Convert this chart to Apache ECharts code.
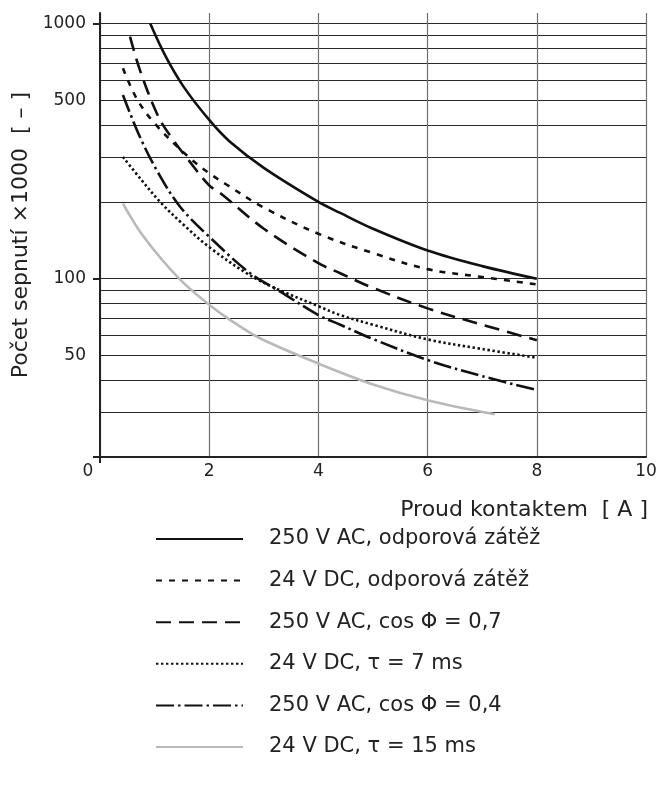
<!DOCTYPE html>
<html>
<head>
<meta charset="utf-8">
<script src="https://cdn.jsdelivr.net/npm/echarts@6/dist/echarts.min.js"></script>
<style>
  html, body { margin: 0; padding: 0; background: #fff; }
  #chart { width: 661px; height: 787px; }
</style>
</head>
<body>
<div id="chart"></div>
<script>
// hodnoty: proud [A] a počet sepnutí ×1000
var ac250Odpor_I = [0.92, 1.2, 1.53, 2, 2.38, 3, 4, 4.4, 5, 6, 7, 8];
var ac250Odpor_N = [1000, 745, 566, 419, 344, 272, 200, 181, 157, 129, 112, 100];

var dc24Odpor_I = [0.42, 0.67, 1, 1.62, 2, 2.3, 3, 4, 5, 6, 7, 8];
var dc24Odpor_N = [668, 509, 406, 300, 259, 235, 190, 150, 126, 109, 101.5, 95];

var ac250Cos07_I = [0.55, 0.73, 1.07, 1.34, 1.62, 2, 2.2, 3, 4, 4.4, 5, 6, 7, 8];
var ac250Cos07_N = [889, 658, 431, 350, 292, 232, 217, 157, 115, 105, 92, 76.5, 66, 57.4];

var dc24Tau7_I = [0.42, 0.75, 1.1, 1.5, 2, 2.75, 3.3, 4, 4.4, 5, 6, 7, 8];
var dc24Tau7_N = [300, 245, 200, 165, 133, 103, 90, 78, 72, 66, 57.8, 53, 49];

var ac250Cos04_I = [0.42, 0.73, 1.07, 1.47, 2, 2.75, 3.3, 4, 4.4, 5, 6, 7, 8];
var ac250Cos04_N = [525, 360, 259, 191, 146, 105, 89, 72, 66, 58, 48, 41.5, 36.6];

var dc24Tau15_I = [0.42, 0.8, 1.45, 2, 2.38, 2.93, 4, 5, 6, 7.23];
var dc24Tau15_N = [197, 146, 100, 79, 69, 58.4, 46.5, 38.5, 33.4, 29.4];

var names = [
  '250 V AC, odporová zátěž',
  '24 V DC, odporová zátěž',
  '250 V AC, cos \u03A6 = 0,7',
  '24 V DC, \u03C4 = 7 ms',
  '250 V AC, cos \u03A6 = 0,4',
  '24 V DC, \u03C4 = 15 ms'
];

// osy
var xTicks = [0, 2, 4, 6, 8, 10];
var yGrid = [30, 40, 50, 60, 70, 80, 90, 100, 200, 300, 400, 500, 600, 700, 800, 900, 1000];
var yLabels = [50, 100, 500, 1000];
var yTicks = [20, 100, 1000];

function pairs(xs, ys) {
  return xs.map(function (x, i) { return [x, ys[i]]; });
}

var font = 'DejaVu Sans, Verdana, sans-serif';

var lineStyles = [
  { color: '#111', width: 2.6, type: 'solid' },
  { color: '#111', width: 2.6, type: [6, 7] },
  { color: '#111', width: 2.6, type: [15, 8] },
  { color: '#111', width: 2.6, type: [2.4, 2.6] },
  { color: '#111', width: 2.6, type: [18, 4, 2.5, 4] },
  { color: '#b9b9b9', width: 2.6, type: 'solid' }
];

var datasets = [
  pairs(ac250Odpor_I, ac250Odpor_N),
  pairs(dc24Odpor_I, dc24Odpor_N),
  pairs(ac250Cos07_I, ac250Cos07_N),
  pairs(dc24Tau7_I, dc24Tau7_N),
  pairs(ac250Cos04_I, ac250Cos04_N),
  pairs(dc24Tau15_I, dc24Tau15_N)
];

var series = datasets.map(function (d, i) {
  return {
    name: names[i],
    type: 'line',
    yAxisIndex: 1,
    data: d,
    smooth: 0.35,
    symbol: 'none',
    color: lineStyles[i].color,
    lineStyle: lineStyles[i],
    z: 5
  };
});

var chart = echarts.init(document.getElementById('chart'));

var option = {
  backgroundColor: '#fff',
  animation: false,
  textStyle: { fontFamily: font },
  grid: { left: 100, right: 15, top: 13, bottom: 330 },
  legend: {
    data: names,
    orient: 'vertical',
    left: 150,
    top: 522,
    itemWidth: 87,
    itemHeight: 24,
    itemGap: 17.6,
    itemStyle: { opacity: 0 },
    textStyle: { fontFamily: font, fontSize: 21, color: '#222', lineHeight: 24, padding: [0, 0, 0, 21] },
    selectedMode: false
  },
  xAxis: [
    {
      type: 'value',
      min: 0,
      max: 10,
      interval: 2,
      name: 'Proud kontaktem  [ A ]',
      nameLocation: 'end',
      nameGap: 2,
      nameTextStyle: {
        fontFamily: font, fontSize: 22, color: '#222',
        align: 'right', verticalAlign: 'top', padding: [42, 0, 0, 0]
      },
      axisLine: { lineStyle: { color: '#222', width: 2 } },
      axisTick: { show: false },
      axisLabel: {
        fontSize: 17, color: '#222', margin: 6,
        formatter: function (v) { return v === 0 ? '{z|0}' : String(v); },
        rich: { z: { fontSize: 17, color: '#222', padding: [0, 24, 0, 0] } }
      },
      splitLine: { show: true, lineStyle: { color: '#6f6f6f', width: 1.2 } }
    },
    {
      // krátká značka pod počátkem
      type: 'value',
      min: 0,
      max: 10,
      position: 'bottom',
      axisLine: { show: false },
      axisTick: { show: true, customValues: [0], length: 6, lineStyle: { color: '#222', width: 2 } },
      axisLabel: { show: false },
      splitLine: { show: false }
    }
  ],
  yAxis: [
    {
      // mřížka
      type: 'log',
      logBase: 10,
      min: 20,
      max: 1100,
      axisLine: { show: false },
      axisTick: { show: false, customValues: yGrid },
      axisLabel: { show: false },
      splitLine: { show: true, lineStyle: { color: '#2a2a2a', width: 1.2 } }
    },
    {
      type: 'log',
      logBase: 10,
      min: 20,
      max: 1100,
      position: 'left',
      name: 'Po\u010Det sepnut\u00ED \u00D71000  [ \u2013 ]',
      nameLocation: 'middle',
      nameGap: 55,
      nameTextStyle: { fontFamily: font, fontSize: 22, color: '#222' },
      axisLine: { show: true, lineStyle: { color: '#222', width: 2 } },
      axisTick: { show: true, customValues: yTicks, length: 7, lineStyle: { color: '#222', width: 2 } },
      axisLabel: {
        customValues: yLabels, fontSize: 17, color: '#222', margin: 14,
        formatter: function (v) { return String(v); }
      },
      splitLine: { show: false }
    }
  ],
  series: series
};

chart.setOption(option);
</script>
</body>
</html>
